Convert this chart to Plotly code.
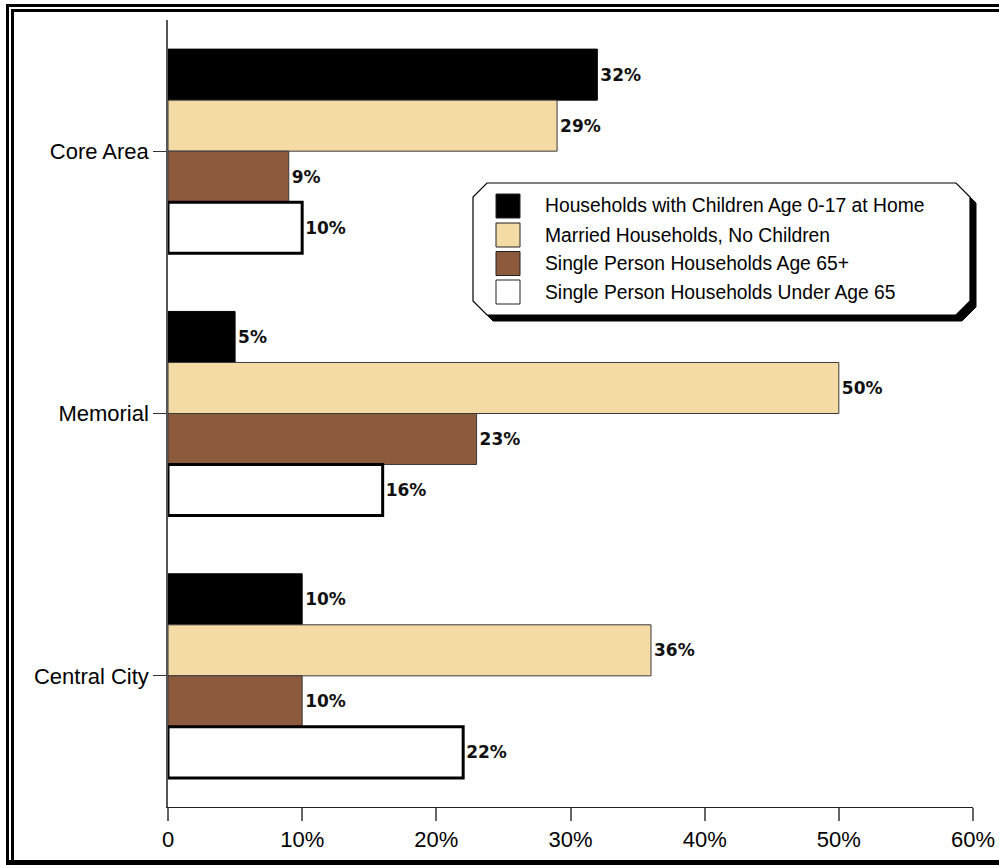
import plotly.graph_objects as go

# Household composition by area (percent of households)
areas = ["Core Area", "Memorial", "Central City"]
series_names = [
    "Households with Children Age 0-17 at Home",
    "Married Households, No Children",
    "Single Person Households Age 65+",
    "Single Person Households Under Age 65",
]
children_at_home = [32, 5, 10]
married_no_children = [29, 50, 36]
single_65_plus = [9, 23, 10]
single_under_65 = [10, 16, 22]

x_tick_vals = [0, 10, 20, 30, 40, 50, 60]
x_tick_text = ["0", "10%", "20%", "30%", "40%", "50%", "60%"]

fill_colors = ["#000000", "#F4DAA5", "#8C5A3D", "#FFFFFF"]
edge_colors = ["#000000", "#3a3a3a", "#3a3a3a", "#000000"]
edge_widths = [1, 1, 1, 3]

W, H = 999, 865
ML, MR, MT, MB = 168, 26, 20, 58
PW, PH = W - ML - MR, H - MT - MB


def px(x):
    return (x - ML) / PW


def py(y):
    return (H - MB - y) / PH


fig = go.Figure()
for name, vals, fc, ec, ew in zip(
    series_names,
    [children_at_home, married_no_children, single_65_plus, single_under_65],
    fill_colors, edge_colors, edge_widths,
):
    fig.add_trace(go.Bar(
        y=areas, x=vals, name=name, orientation="h",
        marker=dict(color=fc, line=dict(color=ec, width=ew)),
        text=[f"{v}%" for v in vals], textposition="outside",
        textfont=dict(family="DejaVu Sans", size=17, color="#111111", weight="bold"),
        cliponaxis=False, showlegend=False,
    ))

shapes = []

# double frame around the chart
frame = "#000000"
shapes += [
    dict(type="rect", xref="paper", yref="paper", x0=px(6), x1=px(1010), y0=py(4), y1=py(7),
         fillcolor=frame, line=dict(width=0), layer="above"),
    dict(type="rect", xref="paper", yref="paper", x0=px(11), x1=px(1010), y0=py(9), y1=py(12),
         fillcolor=frame, line=dict(width=0), layer="above"),
    dict(type="rect", xref="paper", yref="paper", x0=px(6), x1=px(9), y0=py(4), y1=py(866),
         fillcolor=frame, line=dict(width=0), layer="above"),
    dict(type="rect", xref="paper", yref="paper", x0=px(11), x1=px(14), y0=py(9), y1=py(866),
         fillcolor=frame, line=dict(width=0), layer="above"),
    dict(type="rect", xref="paper", yref="paper", x0=px(6), x1=px(1010), y0=py(860), y1=py(866),
         fillcolor=frame, line=dict(width=0), layer="above"),
]


# legend box: chamfered panel with a drop shadow
def octagon(l, t, r, b, c, dx=0, dy=0):
    pts = [(l + c, t), (r - c, t), (r, t + c), (r, b - c), (r - c, b), (l + c, b), (l, b - c), (l, t + c)]
    pts = [(x + dx, y + dy) for x, y in pts]
    return "M " + " L ".join(f"{px(x):.5f},{py(y):.5f}" for x, y in pts) + " Z"


box = (473, 183, 970, 315, 14)
shapes.append(dict(type="path", xref="paper", yref="paper", path=octagon(*box, dx=6, dy=6),
                   fillcolor="#000000", line=dict(color="#000000", width=1), layer="above"))
shapes.append(dict(type="path", xref="paper", yref="paper", path=octagon(*box),
                   fillcolor="#FFFFFF", line=dict(color="#000000", width=1.2), layer="above"))

annotations = []
row_centers = [206, 235, 263.5, 292]
for name, fc, ec, yc in zip(series_names, fill_colors, edge_colors, row_centers):
    shapes.append(dict(type="rect", xref="paper", yref="paper",
                       x0=px(496), x1=px(520), y0=py(yc - 12), y1=py(yc + 12),
                       fillcolor=fc, line=dict(color="#222222", width=1), layer="above"))
    annotations.append(dict(xref="paper", yref="paper", x=px(543), y=py(yc), text=name,
                            showarrow=False, xanchor="left", yanchor="middle",
                            font=dict(family="Liberation Sans", size=19.3, color="#000000")))

fig.update_layout(
    width=W, height=H,
    margin=dict(l=ML, r=MR, t=MT, b=MB, autoexpand=False),
    paper_bgcolor="#FFFFFF", plot_bgcolor="#FFFFFF",
    barmode="group", bargap=0.222, bargroupgap=0,
    shapes=shapes, annotations=annotations,
    showlegend=False,
    font=dict(family="Liberation Sans", color="#000000"),
    xaxis=dict(
        range=[0, 60], tickvals=x_tick_vals, ticktext=x_tick_text, automargin=False,
        showgrid=False, zeroline=False, showline=True, linecolor="#222222", linewidth=1,
        ticks="outside", ticklen=13, tickcolor="#666666", tickwidth=1.5,
        tickfont=dict(family="Liberation Sans", size=22, color="#000000"),
    ),
    yaxis=dict(
        type="category", categoryorder="array", categoryarray=areas,
        range=[2.5, -0.5], automargin=False,
        showgrid=False, zeroline=False, showline=True, linecolor="#555555", linewidth=1.5,
        ticks="outside", ticklen=13, tickcolor="#333333", tickwidth=1,
        tickfont=dict(family="Liberation Sans", size=22, color="#000000"),
    ),
)

fig.write_html("out.html")
